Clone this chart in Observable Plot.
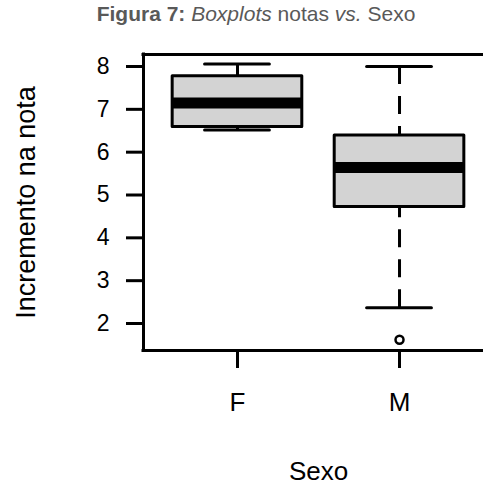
<!DOCTYPE html>
<html>
<head>
<meta charset="utf-8">
<script src="https://cdn.jsdelivr.net/npm/d3@7"></script>
<script src="https://cdn.jsdelivr.net/npm/@observablehq/plot@0.6"></script>
<style>
  html, body { margin: 0; padding: 0; background: #fff; }
  #title {
    box-sizing: border-box; width: 483px; height: 28px; padding-left: 29px;
    text-align: center; font-family: "Liberation Sans", Arial, sans-serif;
    font-size: 21px; line-height: 28px; color: #595959; white-space: nowrap;
  }
  svg { display: block; font-family: "Liberation Sans", Arial, sans-serif; color: #000; }
</style>
</head>
<body>
<div id="title"><b>Figura 7:</b> <i>Boxplots</i> notas <i>vs.</i> Sexo</div>
<div id="chart"></div>
<script>
// Data
const categories = ["F", "M"];
const lowerWhisker = [6.52, 2.37];
const q1 = [6.59, 4.72];
const median = [7.145, 5.64];
const q3 = [7.77, 6.39];
const upperWhisker = [8.06, 8.00];
const outliers = [[], [1.62]];
const yTicks = [2, 3, 4, 5, 6, 7, 8];
const yLabel = "Incremento na nota";
const xLabel = "Sexo";

const boxes = categories.map((c, i) => ({
  pos: i + 1, cat: c,
  lo: lowerWhisker[i], q1: q1[i], med: median[i], q3: q3[i], hi: upperWhisker[i]
}));
const outs = categories.flatMap((c, i) => outliers[i].map(v => ({pos: i + 1, v})));

const xDomain = [0.42, 2.58];
const yDomain = [1.37, 8.28];
const halfBox = 0.4, halfCap = 0.2;

const chart = Plot.plot({
  width: 483,
  height: 458,
  marginLeft: 143,
  marginRight: 0,
  marginTop: 26,
  marginBottom: 136,
  x: {type: "linear", domain: xDomain, range: [143, 493]},
  y: {domain: yDomain},
  marks: [
    // whiskers (dashed, drawn from cap toward box)
    Plot.ruleX(boxes, {x: "pos", y1: "hi", y2: "q3", stroke: "black", strokeWidth: 3, strokeDasharray: "18,12"}),
    Plot.ruleX(boxes, {x: "pos", y1: "lo", y2: "q1", stroke: "black", strokeWidth: 3, strokeDasharray: "18,12"}),
    // caps
    Plot.ruleY(boxes, {y: "hi", x1: d => d.pos - halfCap, x2: d => d.pos + halfCap, stroke: "black", strokeWidth: 3, strokeLinecap: "round"}),
    Plot.ruleY(boxes, {y: "lo", x1: d => d.pos - halfCap, x2: d => d.pos + halfCap, stroke: "black", strokeWidth: 3, strokeLinecap: "round"}),
    // boxes
    Plot.rect(boxes, {x1: d => d.pos - halfBox, x2: d => d.pos + halfBox, y1: "q1", y2: "q3", fill: "#d3d3d3", stroke: "black", strokeWidth: 3, strokeLinejoin: "round"}),
    // medians
    Plot.ruleY(boxes, {y: "med", x1: d => d.pos - halfBox, x2: d => d.pos + halfBox, stroke: "black", strokeWidth: 11}),
    // outliers
    Plot.dot(outs, {x: "pos", y: "v", r: 4, stroke: "black", strokeWidth: 2.5, fill: "white"}),
    // frame (left, top, bottom; right edge lies off-canvas)
    Plot.ruleY(yDomain, {x1: xDomain[0], x2: xDomain[1], stroke: "black", strokeWidth: 3, strokeLinecap: "square"}),
    Plot.ruleX([xDomain[0]], {y1: yDomain[0], y2: yDomain[1], stroke: "black", strokeWidth: 3, strokeLinecap: "square"}),
    // axes
    Plot.axisY(yTicks, {anchor: "left", tickSize: 17, tickPadding: 17, fontSize: 23, strokeWidth: 3, label: null}),
    Plot.axisX(categories.map((c, i) => i + 1), {anchor: "bottom", tickSize: 18, tickPadding: 24, fontSize: 26, strokeWidth: 3, tickFormat: i => categories[i - 1], label: null}),
    // axis titles
    Plot.text([yLabel], {frameAnchor: "left", text: d => d, rotate: -90, dx: -117, textAnchor: "middle", fontSize: 27, lineAnchor: "middle", fill: "black"}),
    Plot.text([xLabel], {x: [1.5], frameAnchor: "bottom", text: d => d, dy: 121, fontSize: 26, lineAnchor: "middle", fill: "black"})
  ]
});
document.getElementById("chart").appendChild(chart);
</script>
</body>
</html>
